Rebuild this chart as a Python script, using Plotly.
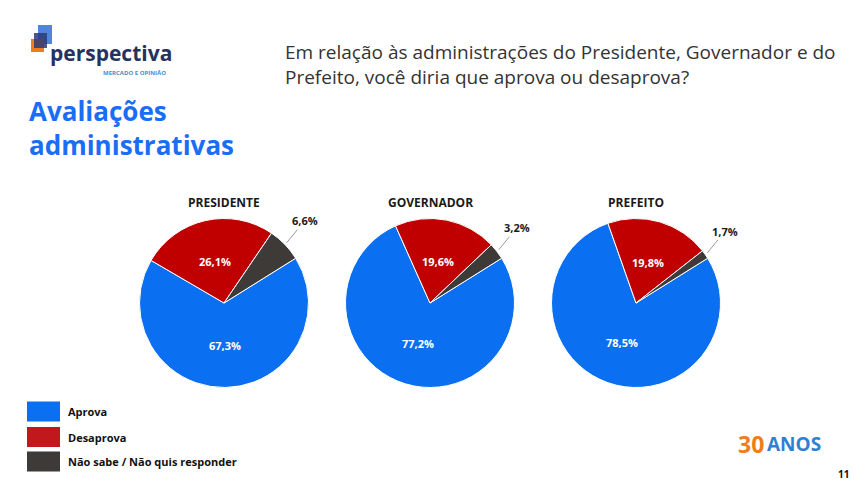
import math
import plotly.graph_objects as go

W, H = 855, 485

# ---- data ----
categories = ["Aprova", "Desaprova", "Não sabe / Não quis responder"]
offices = ["PRESIDENTE", "GOVERNADOR", "PREFEITO"]
presidente = [67.3, 26.1, 6.6]
governador = [77.2, 19.6, 3.2]
prefeito = [78.5, 19.8, 1.7]
series = [presidente, governador, prefeito]
colors = ["#0b6ff2", "#c00000", "#3d3a38"]
legend_colors = ["#0b6ff2", "#c0181d", "#3d3a38"]

# ---- layout constants (pixels) ----
centers_x = [224, 430, 636]
center_y = 303
R = 84.5
ROT = 58

FONT_B = "Open Sans"


def px(x):
    return x / W


def py(y):
    return 1 - y / H


def fmt(v):
    return f"{v:.1f}".replace(".", ",") + "%"


def note(x, y, text, size, color, xanchor="center", yanchor="middle", **kw):
    d = dict(x=px(x), y=py(y), xref="paper", yref="paper", text=text, showarrow=False,
             xanchor=xanchor, yanchor=yanchor, font=dict(family=FONT_B, size=size, color=color))
    d.update(kw)
    return d


fig = go.Figure()
annotations = []
shapes = []

for cx, name, vals in zip(centers_x, offices, series):
    fig.add_trace(go.Pie(
        labels=categories, values=vals, sort=False, direction="clockwise",
        rotation=ROT, textinfo="none", hoverinfo="label+percent",
        marker=dict(colors=colors, line=dict(color="white", width=1)),
        domain=dict(x=[px(cx - R), px(cx + R)], y=[py(center_y + R), py(center_y - R)]),
        showlegend=False,
    ))
    annotations.append(note(cx, 202, f"<b>{name}</b>", 12, "#1a1a1a"))
    total = sum(vals)
    ang = ROT
    for i, v in enumerate(vals):
        span = 360 * v / total
        mid = math.radians(ang + span / 2)
        ang += span
        if v > 10:
            lx = cx + 0.5 * R * math.sin(mid)
            ly = center_y - 0.5 * R * math.cos(mid)
            annotations.append(note(lx, ly, f"<b>{fmt(v)}</b>", 11, "white"))
        else:
            tx = cx + 1.03 * R * math.sin(mid)
            ty = center_y - 1.03 * R * math.cos(mid)
            annotations.append(dict(x=px(tx), y=py(ty), xref="paper", yref="paper",
                                    text=f"<b>{fmt(v)}</b>", showarrow=True,
                                    arrowhead=0, arrowwidth=1, arrowcolor="#9a9a9a",
                                    ax=18, ay=-22,
                                    font=dict(family=FONT_B, size=11, color="#1a1a1a")))

# ---- titles ----
annotations.append(note(27, 91, "<b>Avaliações<br>administrativas</b>", 26, "#1a6ef5",
                        xanchor="left", yanchor="top", align="left"))
annotations.append(note(283, 37,
                        "Em relação às administrações do Presidente, Governador e do<br>Prefeito, você diria que aprova ou desaprova?",
                        19, "#333333", xanchor="left", yanchor="top", align="left"))

# ---- legend ----
leg_y = [411.5, 437, 461.5]
for c, lab, yy in zip(legend_colors, categories, leg_y):
    shapes.append(dict(type="rect", xref="paper", yref="paper",
                       x0=px(27), x1=px(60), y0=py(yy - 10), y1=py(yy + 10),
                       fillcolor=c, line=dict(width=0)))
    annotations.append(note(66, yy, f"<b>{lab}</b>", 11, "#111111", xanchor="left"))

# ---- logo ----
shapes += [
    dict(type="rect", xref="paper", yref="paper", x0=px(38), x1=px(52), y0=py(44), y1=py(25),
         fillcolor="#4f86d9", line=dict(width=0)),
    dict(type="rect", xref="paper", yref="paper", x0=px(31), x1=px(44), y0=py(52), y1=py(39),
         fillcolor="#ee7d1a", line=dict(width=0)),
    dict(type="rect", xref="paper", yref="paper", x0=px(34), x1=px(47), y0=py(48), y1=py(33),
         fillcolor="#2b3a78", line=dict(width=0), opacity=0.85),
]
annotations.append(note(48, 53, "<b>perspectiva</b>", 21, "#26325e", xanchor="left"))
annotations.append(note(168, 73, "<b>MERCADO E OPINIÃO</b>", 6, "#4a8ad8", xanchor="right"))

# ---- 30 anos & page ----
annotations.append(note(766, 444, "<b>30</b>", 23, "#ee7d1a", xanchor="right"))
annotations.append(note(765, 444, "<b>ANOS</b>", 19, "#2f7fd3", xanchor="left"))
annotations.append(note(851, 474, "<b>11</b>", 10, "#111111", xanchor="right"))

fig.update_layout(width=W, height=H, margin=dict(l=0, r=0, t=0, b=0),
                  paper_bgcolor="white", plot_bgcolor="white",
                  annotations=annotations, shapes=shapes)

fig.write_html("out.html", config={"displayModeBar": False},
               post_script="document.body.style.margin='0';document.body.style.overflow='hidden';")
